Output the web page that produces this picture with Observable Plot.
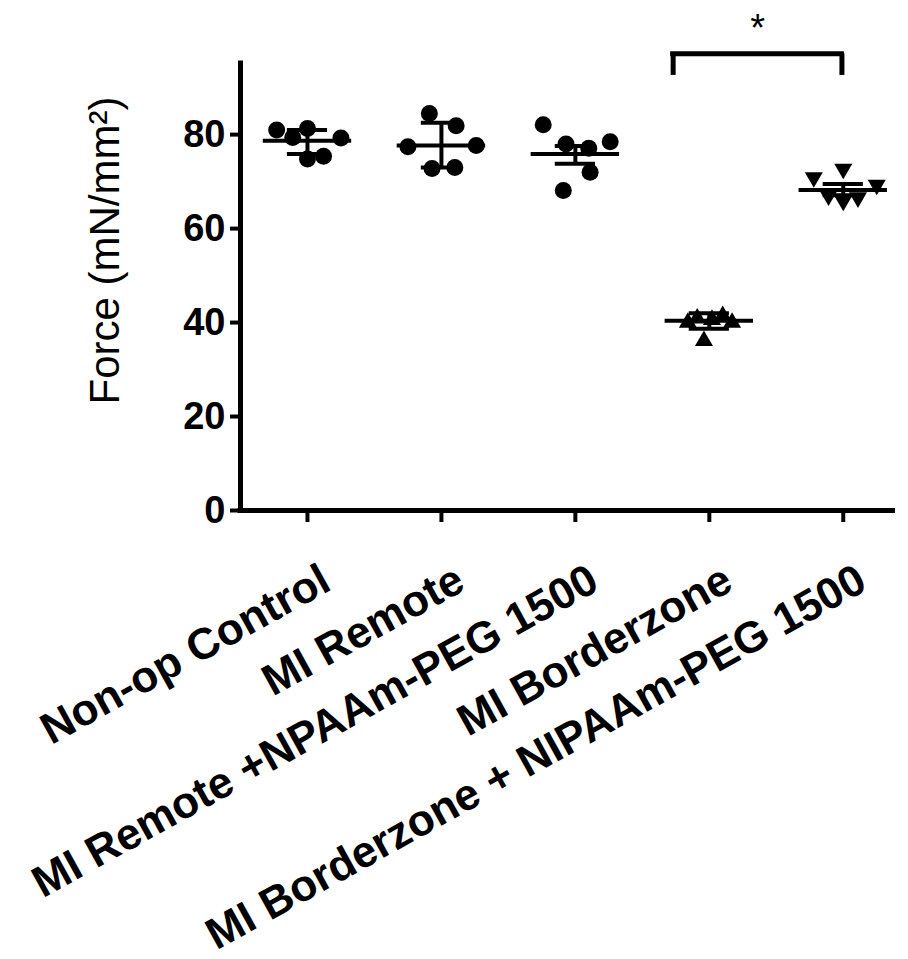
<!DOCTYPE html>
<html><head><meta charset="utf-8">
<script src="https://cdn.jsdelivr.net/npm/d3@7"></script>
<script src="https://cdn.jsdelivr.net/npm/@observablehq/plot@0.6"></script>
<style>body{margin:0;background:#fff} svg{display:block}</style>
</head><body><div id="chart"></div>
<script>
const categories = ["Non-op Control", "MI Remote", "MI Remote +NPAAm-PEG 1500", "MI Borderzone", "MI Borderzone + NIPAAm-PEG 1500"];
const nonOpControl = [81.0, 81.3, 79.4, 79.3, 74.8, 75.4];
const miRemote = [84.5, 81.9, 77.4, 77.7, 72.8, 73.0];
const miRemoteGel = [82.1, 78.0, 77.1, 78.5, 72.0, 68.1];
const miBorderzone = [40.0, 40.9, 41.4, 40.0, 36.1, 40.6];
const miBorderzoneGel = [70.9, 72.7, 69.3, 65.9, 66.6, 67.0];
// horizontal scatter spread of the points within each column (category units)
const spreadNonOp = [-0.23, 0, -0.11, 0.25, 0, 0.12];
const spreadRemote = [-0.09, 0.11, -0.25, 0.26, -0.07, 0.10];
const spreadRemoteGel = [-0.24, -0.07, 0.10, 0.26, 0.11, -0.09];
const spreadBorder = [-0.16, -0.09, 0.10, 0.17, -0.04, 0.02];
const spreadBorderGel = [-0.22, 0, 0.25, 0, 0.11, -0.11];
const means = [78.7, 77.7, 75.9, 40.4, 68.2];
const errLow = [75.9, 73.0, 73.8, 38.7, 67.1];
const errHigh = [81.0, 82.5, 77.6, 42.0, 69.5];
const yTicks = [0, 20, 40, 60, 80];
const yTitle = "Force (mN/mm²)";
const sigLabel = "*";
const bracketEnds = [2.73, 3.99];
const bracketLevels = [97.2, 92.6];

const groupValues = [nonOpControl, miRemote, miRemoteGel, miBorderzone, miBorderzoneGel];
const groupSpread = [spreadNonOp, spreadRemote, spreadRemoteGel, spreadBorder, spreadBorderGel];
const points = groupValues.flatMap((vals, g) => vals.map((v, i) => ({g, x: g + groupSpread[g][i], y: v})));
const summary = means.map((m, i) => ({i, m, lo: errLow[i], hi: errHigh[i]}));
const idx = d3.range(categories.length);

const triangleDown = {
  draw(context, size) {
    const y = -Math.sqrt(size / (3 * Math.sqrt(3)));
    context.moveTo(0, -y * 2);
    context.lineTo(-Math.sqrt(3) * y, y);
    context.lineTo(Math.sqrt(3) * y, y);
    context.closePath();
  }
};

const yMax = 96.2;
const chart = Plot.plot({
  width: 908,
  height: 959,
  marginLeft: 240,
  marginRight: 13,
  marginTop: 58,
  marginBottom: 449,
  style: {fontFamily: "'Liberation Sans', Arial, sans-serif", background: "#fff", color: "#000", overflow: "visible"},
  x: {domain: [-0.5, 4.39], axis: null},
  y: {domain: [0, yMax], axis: null},
  marks: [
    Plot.ruleX([-0.5], {y1: 0, y2: yMax, strokeWidth: 5, insetBottom: -2.5}),
    Plot.ruleY([0], {x1: -0.5, x2: 4.39, strokeWidth: 5, insetLeft: -2.5}),
    Plot.axisY(yTicks, {tickSize: 10, strokeWidth: 4, tickPadding: 5, fontSize: 38, fontWeight: "bold", label: null}),
    Plot.axisX(idx, {tickSize: 12, strokeWidth: 4, tickFormat: () => "", label: null}),
    Plot.text(categories, {x: (d, i) => i, y: 0, text: d => d, rotate: -29, textAnchor: "end", lineAnchor: "middle", dx: 19, dy: 66, fontSize: 44, fontWeight: "bold"}),
    Plot.text([yTitle], {frameAnchor: "left", dx: -135, dy: -34, rotate: -90, fontSize: 42, textAnchor: "middle"}),
    Plot.dot(points.filter(d => d.g < 3), {x: "x", y: "y", r: 8.5, fill: "black", symbol: "circle"}),
    Plot.dot(points.filter(d => d.g === 3), {x: "x", y: "y", r: 6.7, fill: "black", symbol: "triangle"}),
    Plot.dot(points.filter(d => d.g === 4), {x: "x", y: "y", r: 6.7, fill: "black", symbol: triangleDown}),
    Plot.ruleY(summary, {y: "m", x1: d => d.i - 0.33, x2: d => d.i + 0.33, strokeWidth: 4}),
    Plot.ruleY(summary, {y: "lo", x1: d => d.i - 0.15, x2: d => d.i + 0.15, strokeWidth: 4}),
    Plot.ruleY(summary, {y: "hi", x1: d => d.i - 0.15, x2: d => d.i + 0.15, strokeWidth: 4}),
    Plot.ruleX(summary, {x: "i", y1: "lo", y2: "hi", strokeWidth: 4}),
    Plot.ruleY([bracketLevels[0]], {x1: bracketEnds[0], x2: bracketEnds[1], strokeWidth: 5, insetLeft: -2.5, insetRight: -2.5}),
    Plot.ruleX(bracketEnds, {y1: bracketLevels[1], y2: bracketLevels[0], strokeWidth: 5}),
    Plot.text([sigLabel], {x: (bracketEnds[0] + bracketEnds[1]) / 2, y: 102.5, fontSize: 38})
  ]
});
document.getElementById("chart").append(chart);
</script>
</body></html>
